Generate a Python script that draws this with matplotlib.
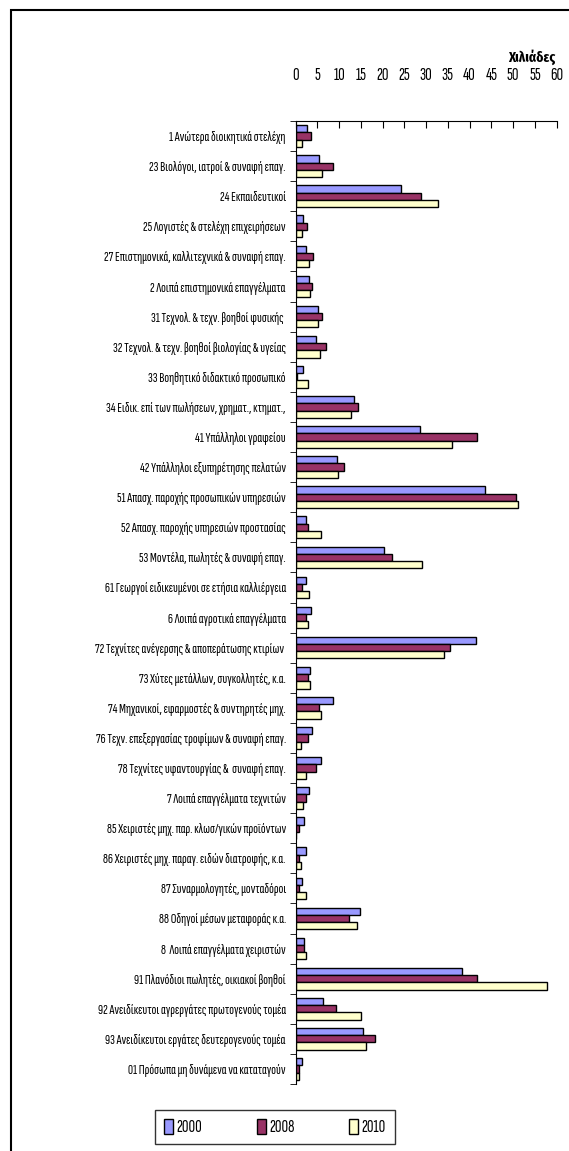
import matplotlib
matplotlib.use("Agg")
import matplotlib.pyplot as plt
import numpy as np
from matplotlib.patches import Rectangle

categories = [
    "1 Ανώτερα διοικητικά στελέχη",
    "23 Βιολόγοι, ιατροί & συναφή επαγ.",
    "24 Εκπαιδευτικοί",
    "25 Λογιστές & στελέχη επιχειρήσεων",
    "27 Επιστημονικά, καλλιτεχνικά & συναφή επαγ.",
    "2 Λοιπά επιστημονικά επαγγέλματα",
    "31 Τεχνολ. & τεχν. βοηθοί φυσικής ",
    "32 Τεχνολ. & τεχν. βοηθοί βιολογίας & υγείας",
    "33 Βοηθητικό διδακτικό προσωπικό",
    "34 Ειδικ. επί των πωλήσεων, χρηματ., κτηματ.,",
    "41 Υπάλληλοι γραφείου",
    "42 Υπάλληλοι εξυπηρέτησης πελατών",
    "51 Απασχ. παροχής προσωπικών υπηρεσιών",
    "52 Απασχ. παροχής υπηρεσιών προστασίας",
    "53 Μοντέλα, πωλητές & συναφή επαγ.",
    "61 Γεωργοί ειδικευμένοι σε ετήσια καλλιέργεια",
    "6 Λοιπά αγροτικά επαγγέλματα",
    "72 Τεχνίτες ανέγερσης & αποπεράτωσης κτιρίων ",
    "73 Χύτες μετάλλων, συγκολλητές, κ.α.",
    "74 Μηχανικοί, εφαρμοστές & συντηρητές μηχ.",
    "76 Τεχν. επεξεργασίας τροφίμων & συναφή επαγ.",
    "78 Τεχνίτες υφαντουργίας &  συναφή επαγ.",
    "7 Λοιπά επαγγέλματα τεχνιτών",
    "85 Χειριστές μηχ. παρ. κλωσ/γικών προϊόντων",
    "86 Χειριστές μηχ. παραγ. ειδών διατροφής, κ.α.",
    "87 Συναρμολογητές, μονταδόροι",
    "88 Οδηγοί μέσων μεταφοράς κ.α.",
    "8  Λοιπά επαγγέλματα χειριστών",
    "91 Πλανόδιοι πωλητές, οικιακοί βοηθοί",
    "92 Ανειδίκευτοι αγρεργάτες πρωτογενούς τομέα",
    "93 Ανειδίκευτοι εργάτες δευτερογενούς τομέα",
    "01 Πρόσωπα μη δυνάμενα να καταταγούν",
]

# thousands of employed persons
v2000 = [2.6, 5.5, 24.3, 1.8, 2.4, 3.2, 5.2, 4.6, 1.8, 13.4, 28.7, 9.5, 43.5, 2.5, 20.3, 2.5,
         3.6, 41.5, 3.4, 8.5, 3.9, 5.9, 3.2, 2.0, 2.3, 1.6, 14.9, 2.0, 38.3, 6.4, 15.6, 1.5]
v2008 = [3.5, 8.5, 28.8, 2.7, 4.1, 3.9, 6.2, 6.9, 0.4, 14.4, 41.6, 11.1, 50.6, 2.9, 22.2, 1.6,
         2.3, 35.4, 2.9, 5.5, 2.9, 4.6, 2.5, 0.8, 0.9, 0.9, 12.4, 2.0, 41.6, 9.2, 18.2, 0.9]
v2010 = [1.5, 6.2, 32.7, 1.5, 3.2, 3.4, 5.2, 5.7, 2.9, 12.8, 36.0, 9.8, 51.0, 5.9, 29.0, 3.2,
         2.9, 34.0, 3.4, 5.8, 1.3, 2.3, 1.8, 0.0, 1.3, 2.3, 14.2, 2.5, 57.8, 15.1, 16.3, 0.9]
years = ["2000", "2008", "2010"]
colors = ["#9999FF", "#993366", "#FFFFCC"]

plt.rcParams["font.family"] = ["Sofia Sans Extra Condensed", "Fira Sans Extra Condensed", "DejaVu Sans"]

fig = plt.figure(figsize=(5.69, 11.51), dpi=100)
# outer frame, cut off at right and bottom like the source
fig.patches.append(Rectangle((11 / 569, -0.1), 1.2, 1 - 10 / 1151 + 0.1, transform=fig.transFigure,
                             fill=False, edgecolor="black", linewidth=1.5))

ax = fig.add_axes([295.5 / 569, 1 - 1084 / 1151, 261.2 / 569, (1084 - 121) / 1151])

y = np.arange(len(categories))
h = 0.24
for i, (vals, yr, c) in enumerate(zip([v2000, v2008, v2010], years, colors)):
    ax.barh(y + (i - 1) * h, vals, height=h, color=c, edgecolor="black", linewidth=1, label=yr)

ax.set_xlim(0, 60)
ax.set_ylim(len(categories) - 0.5, -0.5)
ax.xaxis.tick_top()
ax.set_xticks(np.arange(0, 61, 5))
ax.tick_params(axis="x", direction="in", length=5, pad=27, labelsize=13)
ax.set_yticks(y)
ax.set_yticklabels(categories, fontsize=10.2)
ax.tick_params(axis="y", length=0, pad=7)
ax.set_yticks(np.arange(len(categories) + 1) - 0.5, minor=True)
ax.tick_params(axis="y", which="minor", direction="out", length=4)
for s in ["right", "bottom"]:
    ax.spines[s].set_visible(False)

fig.text(555 / 569, 1 - 57 / 1151, "Χιλιάδες", ha="right", va="center", fontsize=10.5,
         fontweight="bold", family=["Fira Sans Extra Condensed", "DejaVu Sans"])

handles, labels = ax.get_legend_handles_labels()
fig.legend(handles, labels, loc="center", bbox_to_anchor=(275 / 569, 1 - 1127 / 1151), ncol=3,
           frameon=True, fancybox=False, edgecolor="black", fontsize=13, handlelength=0.5,
           handleheight=0.9, columnspacing=3.0, handletextpad=0.2, borderpad=0.5)

fig.savefig("out.png", dpi=100)
